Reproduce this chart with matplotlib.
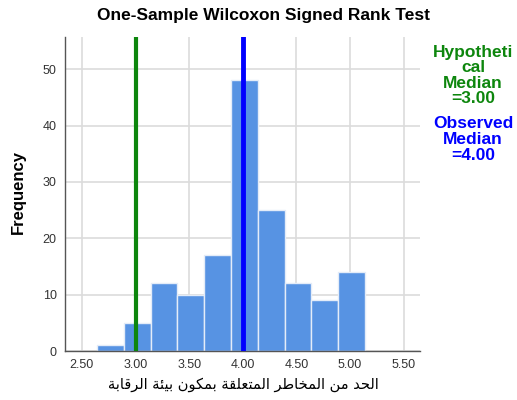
import numpy as np
import matplotlib
matplotlib.use('Agg')
import matplotlib.pyplot as plt

# histogram data
bin_edges = [2.64, 2.89, 3.14, 3.39, 3.64, 3.89, 4.14, 4.39, 4.64, 4.89, 5.14]
counts = [1, 5, 12, 10, 17, 48, 25, 12, 9, 14]
hyp_median = 3.00
obs_median = 4.00
x_ticks = [2.50, 3.00, 3.50, 4.00, 4.50, 5.00, 5.50]
y_ticks = [0, 10, 20, 30, 40, 50]
title = 'One-Sample Wilcoxon Signed Rank Test'
xlabel_ar = 'الحد من المخاطر المتعلقة بمكون بيئة الرقابة'

# minimal Arabic shaping: presentation forms (isolated, final, initial, medial)
FORMS = {
    'ا': ('\uFE8D', '\uFE8E', None, None),
    'ب': ('\uFE8F', '\uFE90', '\uFE91', '\uFE92'),
    'ة': ('\uFE93', '\uFE94', None, None),
    'ت': ('\uFE95', '\uFE96', '\uFE97', '\uFE98'),
    'ح': ('\uFEA1', '\uFEA2', '\uFEA3', '\uFEA4'),
    'خ': ('\uFEA5', '\uFEA6', '\uFEA7', '\uFEA8'),
    'د': ('\uFEA9', '\uFEAA', None, None),
    'ر': ('\uFEAD', '\uFEAE', None, None),
    'ط': ('\uFEC1', '\uFEC2', '\uFEC3', '\uFEC4'),
    'ع': ('\uFEC9', '\uFECA', '\uFECB', '\uFECC'),
    'ق': ('\uFED5', '\uFED6', '\uFED7', '\uFED8'),
    'ك': ('\uFED9', '\uFEDA', '\uFEDB', '\uFEDC'),
    'ل': ('\uFEDD', '\uFEDE', '\uFEDF', '\uFEE0'),
    'م': ('\uFEE1', '\uFEE2', '\uFEE3', '\uFEE4'),
    'ن': ('\uFEE5', '\uFEE6', '\uFEE7', '\uFEE8'),
    'ه': ('\uFEE9', '\uFEEA', '\uFEEB', '\uFEEC'),
    'و': ('\uFEED', '\uFEEE', None, None),
    'ي': ('\uFEF1', '\uFEF2', '\uFEF3', '\uFEF4'),
    'ئ': ('\uFE89', '\uFE8A', '\uFE8B', '\uFE8C'),
}


def dual(ch):
    return ch in FORMS and FORMS[ch][2] is not None


def shape_arabic(text):
    out = []
    for i, ch in enumerate(text):
        if ch not in FORMS:
            out.append(ch)
            continue
        prev = text[i - 1] if i > 0 else ''
        nxt = text[i + 1] if i + 1 < len(text) else ''
        jp = dual(prev)
        jn = dual(ch) and nxt in FORMS
        iso, fin, ini, med = FORMS[ch]
        if jp and jn:
            out.append(med)
        elif jp:
            out.append(fin)
        elif jn:
            out.append(ini)
        else:
            out.append(iso)
    return ''.join(out)[::-1]


plt.rcParams['font.family'] = ['Liberation Sans', 'DejaVu Sans']

fig = plt.figure(figsize=(5.17, 4.0), dpi=100)
ax = fig.add_axes([0.1257, 0.1225, 0.6863, 0.785])

ax.hist(np.repeat((np.array(bin_edges[:-1]) + np.array(bin_edges[1:])) / 2, counts),
        bins=bin_edges, color='#5793e3', edgecolor='#e4ecf8', linewidth=1.0, zorder=2)

ax.axvline(hyp_median, color='#0d860d', linewidth=3, zorder=3)
ax.axvline(obs_median, color='#0000ff', linewidth=3.5, zorder=3)

ax.set_xlim(2.342, 5.65)
ax.set_ylim(0, 55.7)
ax.set_xticks(x_ticks)
ax.set_xticklabels([f'{v:.2f}' for v in x_ticks])
ax.set_yticks(y_ticks)
ax.tick_params(length=0, labelsize=9, colors='#333333', pad=6)
ax.grid(True, color='#dcdcdc', linewidth=1.2, zorder=0)
ax.set_axisbelow(True)
for s in ['top', 'right']:
    ax.spines[s].set_visible(False)
for s in ['left', 'bottom']:
    ax.spines[s].set_color('#555555')
    ax.spines[s].set_linewidth(1.0)

fig.text(0.509, 0.962, title, ha='center', va='center', fontsize=12.5, fontweight='bold')
fig.text(0.036, 0.52, 'Frequency', rotation=90, ha='center', va='center',
         fontsize=12, fontweight='bold', family=['Liberation Sans Narrow', 'Liberation Sans'])
fig.text(0.47, 0.038, shape_arabic(xlabel_ar), ha='center', va='center',
         fontsize=10.5, family=['DejaVu Sans'])

fig.text(0.915, 0.811, 'Hypotheti\ncal\nMedian\n=3.00', ha='center', va='center',
         fontsize=12.5, fontweight='bold', color='#0d860d', linespacing=1.05)
fig.text(0.915, 0.651, 'Observed\nMedian\n=4.00', ha='center', va='center',
         fontsize=12.5, fontweight='bold', color='#0000ff', linespacing=1.05)

fig.savefig('out.png', dpi=100)
